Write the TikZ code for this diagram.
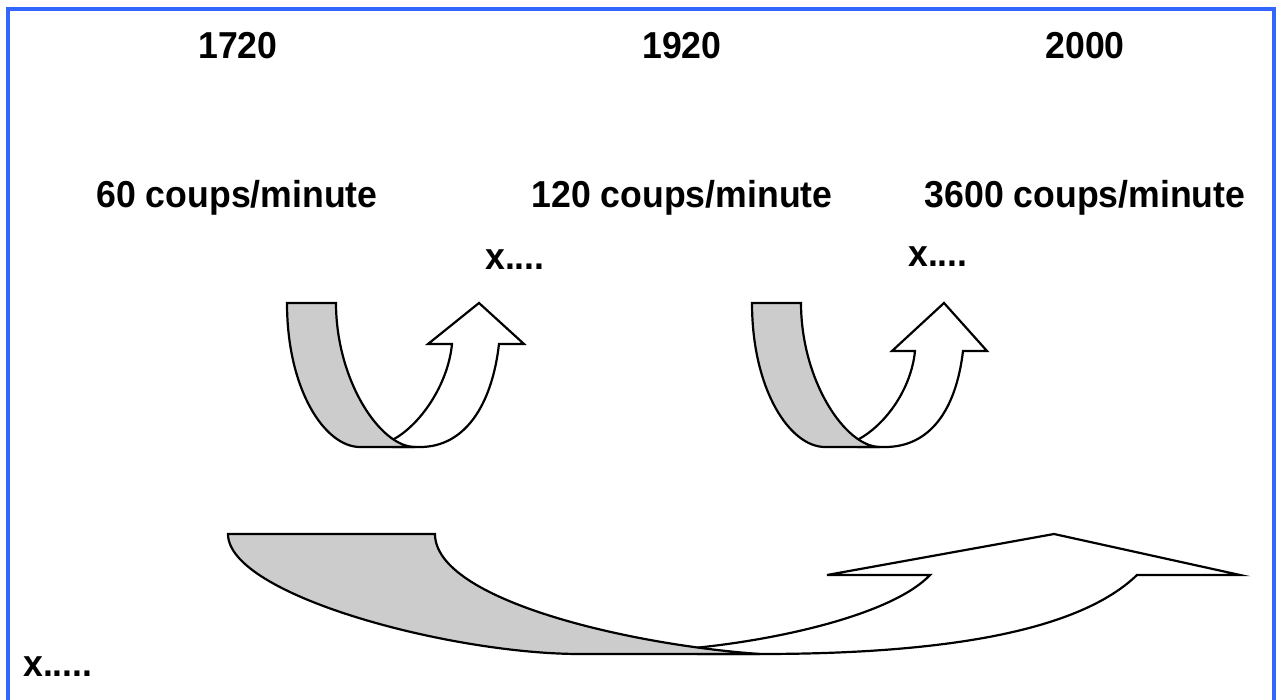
\documentclass[tikz,border=0pt]{standalone}
\usepackage{fontspec}
\setmainfont{Liberation Sans}[FakeStretch=0.95]
\definecolor{frameblue}{RGB}{51,102,255}
\definecolor{bandgray}{RGB}{204,204,204}
\begin{document}
\begin{tikzpicture}[x=1pt,y=-1pt,
  lbl/.style={inner sep=0pt,font=\fontsize{37.5}{40}\selectfont\bfseries},
  shp/.style={draw=black,line width=2.2pt,line join=miter},
  backband/.style={shp,fill=bandgray},
  frontband/.style={shp,fill=white}]
\useasboundingbox (0,0) rectangle (1281,700);
\begin{scope}
\clip (0,0) rectangle (1281,700);
\draw[frameblue,line width=3.2pt] (8,9) rectangle (1274,710);
\end{scope}

% labels
\node[lbl,anchor=base] (y1) at (238,59) {1720};
\node[lbl,anchor=base] (y2) at (682,59) {1920};
\node[lbl,anchor=base] (y3) at (1085,59) {2000};
\node[lbl,anchor=base] (r1) at (237,208) {60 coups/minute};
\node[lbl,anchor=base] (r2) at (682,208) {120 coups/minute};
\node[lbl,anchor=base] (r3) at (1085,208) {3600 coups/minute};
\node[lbl,anchor=base west] (m1) at (485,270) {x....};
\node[lbl,anchor=base west] (m2) at (908,267) {x....};
\node[lbl,anchor=base west] (m3) at (23,676) {x.....};

% first U-turn arrow
\path[frontband] (393.3,439.4) .. controls (420,425) and (448,385) .. (452,344)
  -- (428,344) -- (479,303) -- (524,344) -- (499,344)
  .. controls (492,405) and (465,447) .. (420,447) -- (393.3,447) -- cycle;
\path[backband] (287,303) -- (336,303) .. controls (336,380) and (380,447) .. (415,447)
  -- (360,447) .. controls (325,447) and (287,390) .. (287,303) -- cycle;

% second U-turn arrow
\begin{scope}[shift={(465,0)}]
\path[frontband] (393.3,439.4) .. controls (420,425) and (446,390) .. (450,351)
  -- (427,351) -- (479,303) -- (522,351) -- (498,351)
  .. controls (491,410) and (465,447) .. (420,447) -- (393.3,447) -- cycle;
\path[backband] (287,303) -- (336,303) .. controls (336,380) and (380,447) .. (415,447)
  -- (360,447) .. controls (325,447) and (287,390) .. (287,303) -- cycle;
\end{scope}

% big bottom arrow
\path[frontband] (698,647.6) .. controls (790,638) and (895,612) .. (930,575)
  -- (827,575) -- (1054,534) -- (1240,575) -- (1137,575)
  .. controls (1080,630) and (950,654) .. (760,654) -- (698,654) -- cycle;
\path[backband] (228,534) -- (435,534) .. controls (435,600) and (630,645) .. (760,654)
  -- (580,654) .. controls (450,654) and (228,595) .. (228,534) -- cycle;
\end{tikzpicture}
\end{document}
